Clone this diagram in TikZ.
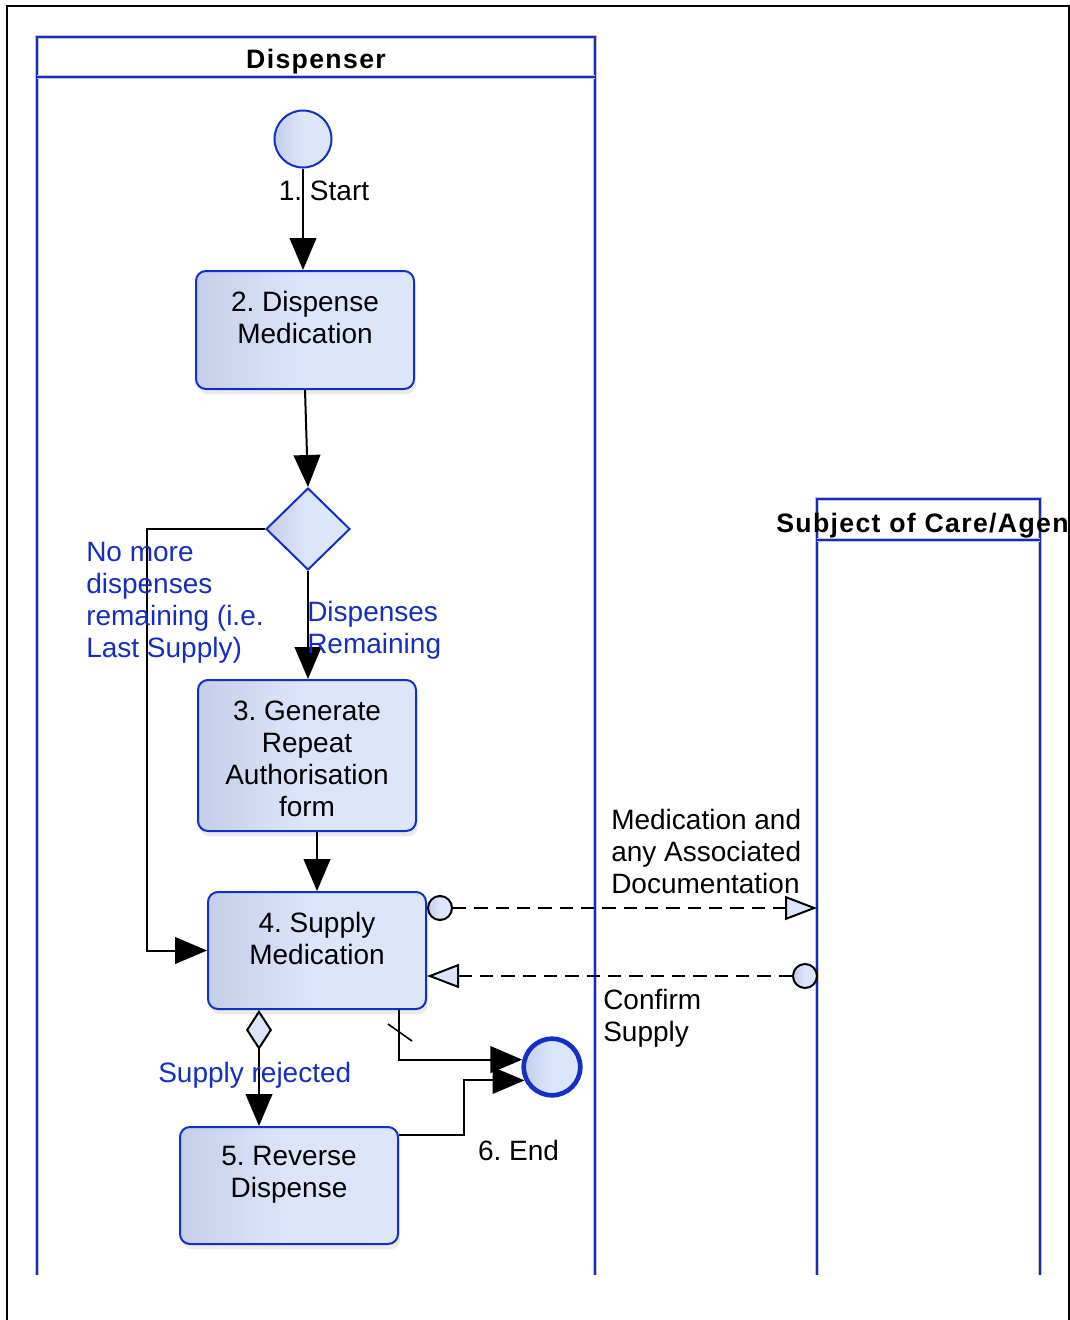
\documentclass[tikz,border=0pt]{standalone}
\usepackage{fontspec}
\setmainfont{Liberation Sans}
\usetikzlibrary{arrows.meta,calc,shapes.geometric,shadows}
\frenchspacing

\definecolor{laneblue}{RGB}{18,40,200}
\definecolor{edgeblue}{RGB}{16,48,200}
\definecolor{labelblue}{RGB}{20,45,195}
\definecolor{fillL}{RGB}{196,206,232}
\definecolor{fillR}{RGB}{220,230,251}

\tikzset{
  lanebox/.style={rectangle, draw=none, inner sep=0pt, outer sep=0pt},
  lanepen/.style={draw=laneblue, line width=2.1pt, preaction={draw=black!22, line width=3pt}},
  hdr/.style={font=\fontsize{20}{24}\selectfont\bfseries\addfontfeature{LetterSpace=5}, inner sep=0pt},
  soft/.style={left color=fillL, right color=fillR, middle color=fillR},
  task/.style={rectangle, rounded corners=7.5pt, draw=edgeblue, line width=1.5pt, soft,
    minimum width=163.5pt, inner sep=0pt,
    drop shadow={shadow xshift=1.5pt, shadow yshift=-4pt, fill=black, opacity=0.08}},
  startev/.style={circle, draw=edgeblue, line width=1.5pt, soft, minimum size=42.75pt, inner sep=0pt},
  endev/.style={circle, draw=edgeblue, line width=3.5pt, soft, minimum size=42.4pt, inner sep=0pt},
  gate/.style={diamond, draw=edgeblue, line width=1.5pt, soft, minimum width=63pt, minimum height=61.5pt, inner sep=0pt},
  msgdot/.style={circle, draw=black, line width=1.5pt, soft, minimum size=18pt, inner sep=0pt},
  txt/.style={font=\fontsize{21}{24}\selectfont, inner sep=0pt, align=center},
  lbl/.style={txt, text=labelblue, align=left},
  flow/.style={draw=black, line width=1.5pt, -{Triangle[length=24pt,width=20pt]}},
  cond/.style={draw=black, line width=1.5pt,
    {Diamond[length=30pt,width=19.5pt,fill=fillR]}-{Triangle[length=24pt,width=20pt]}},
  msg/.style={draw=black, line width=1.5pt, dash pattern=on 10pt off 6pt,
    -{Triangle[length=24pt,width=18pt,fill=fillR]}},
}

\begin{document}
\begin{tikzpicture}[x=0.75pt, y=-0.75pt]
\useasboundingbox (0,0) rectangle (1070,1320);
\clip (0,0) rectangle (1070,1320);

% page frame
\draw[line width=1.5pt] (7,1330) -- (7,6) -- (1069,6) -- (1069,1330);

% swimlanes (open at the bottom)
\node[lanebox, minimum width=418.5pt, minimum height=928.5pt] (dl) at (316,656) {};
\node[lanebox, minimum width=167.25pt, minimum height=582pt] (sl) at (928.5,887) {};
\draw[lanepen] (dl.south west) |- (dl.north east) -- (dl.south east);
\draw[lanepen] ($(dl.north west)+(0,40)$) -- ($(dl.north east)+(0,40)$);
\draw[lanepen] (sl.south west) |- (sl.north east) -- (sl.south east);
\draw[lanepen] ($(sl.north west)+(0,41)$) -- ($(sl.north east)+(0,41)$);
\node[hdr, anchor=base] (dlh) at (316,69) {Dispenser};
\node[hdr, anchor=base west] (slh) at (776,532) {Subject of Care/Agen};

% events, gateway and tasks
\node[startev] (start) at (303,139) {};
\node[task, minimum height=88.5pt]  (t2) at (305,330) {};
\node[gate] (dec) at (308,529) {};
\node[task, minimum height=113.25pt] (t3) at (307,755.5) {};
\node[task, minimum height=87.75pt] (t4) at (317,950.5) {};
\node[task, minimum height=87.75pt] (t5) at (289,1185.5) {};
\node[endev] (endev) at (552,1067) {};
\node[msgdot] (m1s) at (440,908) {};
\node[msgdot] (m2s) at (805,976) {};

% task captions
\node[txt, anchor=north] (t2x) at ($(t2.north)+(0,21)$) {2. Dispense\\Medication};
\node[txt, anchor=north] (t3x) at ($(t3.north)+(0,22)$) {3. Generate\\Repeat\\Authorisation\\form};
\node[txt, anchor=north] (t4x) at ($(t4.north)+(0,21)$) {4. Supply\\Medication};
\node[txt, anchor=north] (t5x) at ($(t5.north)+(0,20)$) {5. Reverse\\Dispense};
\node[txt, anchor=north] (startx) at (324,181) {1. Start};
\node[txt, anchor=north] (endx) at (518.5,1140) {6. End};

% sequence flows
\draw[flow] (start) -- (start |- t2.north);
\draw[flow] (t2.south) -- (dec.north);
\draw[flow] (dec.south) -- (dec.south |- t3.north);
\draw[flow] (dec.west) -- ++(-118,0) |- (t4.west);
\draw[flow] (t4.north |- t3.south) -- (t4.north);
\coordinate (rj) at ($(t4.south west)+(52,0)$);
\draw[cond] (rj) -- (rj |- t5.north);
\coordinate (dflt) at ($(t4.south east)+(-28,0)$);
\draw[flow] (dflt) |- (endev.166);
\draw[line width=1.2pt] ($(dflt)+(-11,14)$) -- ($(dflt)+(13,31)$);
\draw[flow] ($(t5.north east)+(0,9)$) -- ++(65,0) |- (endev.206);

% message flows
\draw[msg] (m1s.east) -- (m1s.east -| sl.west);
\draw[msg] (m2s.west) -- (t4.east |- m2s.west);

% flow labels
\node[lbl, anchor=north west] (nomore) at (86,542) {No more\\dispenses\\remaining (i.e.\\Last Supply)};
\node[lbl, anchor=north west] (remain) at (307,601) {Dispenses\\Remaining};
\node[lbl, anchor=north west] (rejx) at (158,1062) {Supply rejected};
\node[txt, align=left, anchor=north west] (m1x) at (611,809) {Medication and\\any Associated\\Documentation};
\node[txt, align=left, anchor=north west] (m2x) at (603,989) {Confirm\\Supply};
\end{tikzpicture}
\end{document}
